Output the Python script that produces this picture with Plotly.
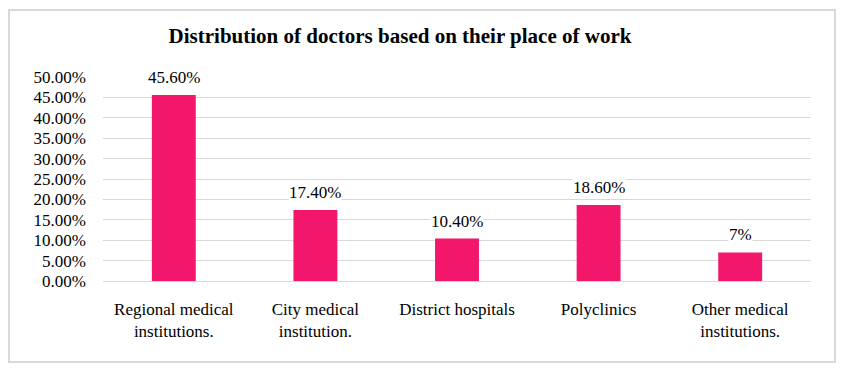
import plotly.graph_objects as go

categories = ["Regional medical<br>institutions.", "City medical<br>institution.",
              "District hospitals", "Polyclinics", "Other medical<br>institutions."]
values = [45.6, 17.4, 10.4, 18.6, 7.0]
value_labels = ["45.60%", "17.40%", "10.40%", "18.60%", "7%"]
title_text = "Distribution of doctors based on their place of work"

W, H = 847, 374
L, R, T, B = 103, 36, 77, 93
pw, ph = W - L - R, H - T - B
FONT = "Liberation Serif, Times New Roman, serif"
BAR = "#F2176B"

fig = go.Figure()
fig.add_trace(go.Bar(x=categories, y=values, marker_color=BAR, marker_line_width=0,
                     hoverinfo="skip"))

for c, v, lab in zip(categories, values, value_labels):
    fig.add_annotation(x=c, y=v, text=lab, showarrow=False, yanchor="bottom",
                       yshift=7, bgcolor="white", borderpad=0,
                       font=dict(family=FONT, size=17, color="#000"))

# outer border
fig.add_shape(type="rect", xref="paper", yref="paper",
              x0=(9 - L) / pw, x1=(835 - L) / pw,
              y0=(H - B - 362) / ph, y1=(H - B - 10) / ph,
              line=dict(color="#d9d9d9", width=2), layer="below")

fig.update_layout(
    width=W, height=H,
    margin=dict(l=L, r=R, t=T, b=B),
    paper_bgcolor="white", plot_bgcolor="white",
    bargap=0.69,
    showlegend=False,
    title=dict(text="<b>" + title_text + "</b>", x=400 / W, xanchor="center",
               y=1 - 36 / H, yanchor="middle", xref="container", yref="container",
               font=dict(family=FONT, size=21, color="#000")),
    font=dict(family=FONT, size=16, color="#000"),
    xaxis=dict(showgrid=False, showline=False, ticks="", ticklabelstandoff=16,
               tickfont=dict(family=FONT, size=17, color="#000")),
    yaxis=dict(range=[0, 50], dtick=5, tick0=0, tickformat=".2f", ticksuffix="%",
               showgrid=True, gridcolor="#d9d9d9", gridwidth=1,
               zeroline=True, zerolinecolor="#d9d9d9", zerolinewidth=1,
               showline=False, ticks="", ticklabelstandoff=16,
               tickfont=dict(family=FONT, size=17, color="#000")),
)

fig.write_html("out.html", config={"displayModeBar": False},
               post_script="document.body.style.margin='0';document.body.style.overflow='hidden';")
